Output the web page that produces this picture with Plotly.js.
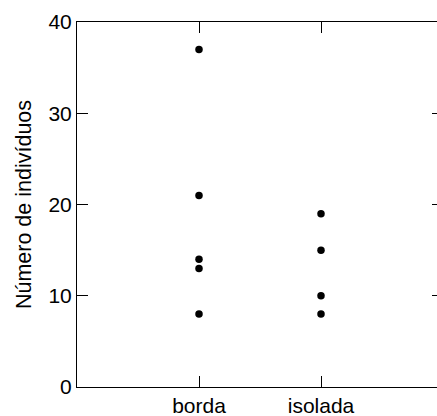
<!DOCTYPE html>
<html>
<head>
<meta charset="utf-8">
<script src="https://cdn.plot.ly/plotly-3.0.1.min.js"></script>
<style>
html, body { margin:0; padding:0; overflow:hidden; background:#fff; }
#chart { width:448px; height:416px; }
</style>
</head>
<body>
<div id="chart"></div>
<script>
const categories = ['borda', 'isolada'];
const bordaValues = [37, 21, 14, 13, 8];
const isoladaValues = [19, 15, 10, 8];
const yTicks = [0, 10, 20, 30, 40];
const yLabel = 'Número de indivíduos';

const xs = [], ys = [];
bordaValues.forEach(v => { xs.push(categories[0]); ys.push(v); });
isoladaValues.forEach(v => { xs.push(categories[1]); ys.push(v); });

const font = {family: 'Liberation Sans, Arial, sans-serif', size: 21, color: '#000'};
const titleFont = {family: 'Liberation Sans, Arial, sans-serif', size: 21.5, color: '#000'};

Plotly.newPlot('chart', [{
  type: 'scatter', mode: 'markers', x: xs, y: ys,
  marker: {color: '#000', size: 7.5},
  hoverinfo: 'skip'
}], {
  width: 448, height: 416,
  margin: {l: 77, r: 5, t: 22, b: 29, pad: 0},
  paper_bgcolor: '#fff', plot_bgcolor: '#fff',
  font: font,
  showlegend: false,
  xaxis: {
    type: 'category', categoryarray: categories, categoryorder: 'array',
    range: [-1, 2], showgrid: false, zeroline: false,
    showline: true, linecolor: '#000', linewidth: 1, mirror: 'allticks',
    ticks: 'inside', ticklen: 11, tickcolor: '#000', tickwidth: 1,
    tickfont: font, fixedrange: true
  },
  yaxis: {
    range: [0, 40], tickvals: yTicks, ticktext: yTicks.map(String),
    showgrid: false, zeroline: false,
    showline: true, linecolor: '#000', linewidth: 1, mirror: 'allticks',
    ticks: 'inside', ticklen: 11, tickcolor: '#000', tickwidth: 1,
    tickfont: font, fixedrange: true,
    title: {text: yLabel, font: titleFont, standoff: 10}
  }
}, {staticPlot: true, displayModeBar: false});
</script>
</body>
</html>
